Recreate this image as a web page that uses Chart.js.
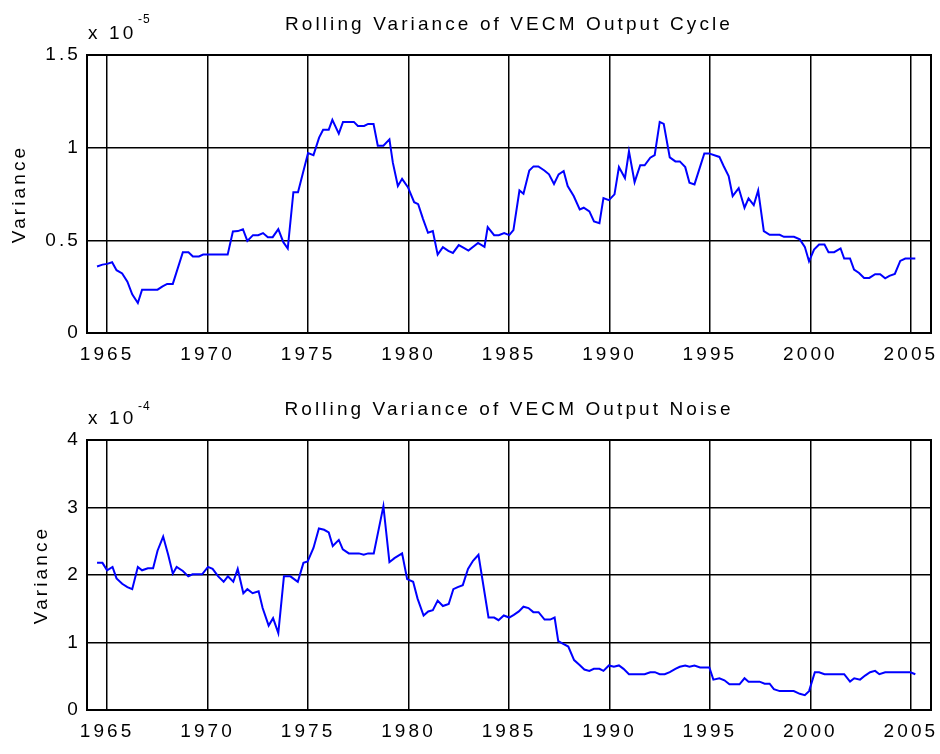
<!DOCTYPE html>
<html>
<head>
<meta charset="utf-8">
<script src="https://cdn.jsdelivr.net/npm/chart.js@4/dist/chart.umd.min.js"></script>
<style>
  body { margin: 0; background: #fff; }
  .panel { position: absolute; left: 0; width: 940px; height: 377px; }
</style>
</head>
<body>
<div class="panel" style="top:0"><canvas id="cycleChart" width="940" height="377"></canvas></div>
<div class="panel" style="top:377px"><canvas id="noiseChart" width="940" height="377"></canvas></div>
<script>
// tick labels
const yearTicks = [1965, 1970, 1975, 1980, 1985, 1990, 1995, 2000, 2005];
const cycleTicks = [0, 0.5, 1, 1.5];   // x 10^-5
const noiseTicks = [0, 1, 2, 3, 4];     // x 10^-4

// rolling variance of the output cycle (x 10^-5)
const cycleYears = [1964.50, 1964.77, 1965.00, 1965.25, 1965.47, 1965.75, 1966.01, 1966.25, 1966.53, 1966.74,
  1967.51, 1967.76, 1967.99, 1968.27, 1968.77, 1969.05, 1969.27, 1969.57, 1969.78, 1971.00,
  1971.26, 1971.51, 1971.76, 1971.98, 1972.26, 1972.52, 1972.76, 1973.00, 1973.24, 1973.52,
  1973.77, 1973.99, 1974.27, 1974.50, 1975.00, 1975.27, 1975.55, 1975.75, 1976.03, 1976.21,
  1976.53, 1976.74, 1977.28, 1977.48, 1977.79, 1977.99, 1978.26, 1978.47, 1978.75, 1979.05,
  1979.22, 1979.47, 1979.68, 1979.97, 1980.28, 1980.48, 1980.72, 1980.97, 1981.21, 1981.45,
  1981.71, 1981.98, 1982.21, 1982.50, 1982.75, 1982.98, 1983.46, 1983.78, 1983.94, 1984.26,
  1984.49, 1984.76, 1985.01, 1985.22, 1985.52, 1985.72, 1986.01, 1986.22, 1986.46, 1986.76,
  1986.99, 1987.24, 1987.47, 1987.72, 1987.92, 1988.22, 1988.52, 1988.72, 1989.00, 1989.23,
  1989.50, 1989.70, 1989.97, 1990.25, 1990.47, 1990.77, 1990.97, 1991.25, 1991.53, 1991.75,
  1992.03, 1992.25, 1992.50, 1992.70, 1993.00, 1993.28, 1993.50, 1993.77, 1993.98, 1994.23,
  1994.72, 1994.95, 1995.47, 1995.68, 1995.93, 1996.13, 1996.43, 1996.72, 1996.92, 1997.18,
  1997.40, 1997.68, 1997.97, 1998.47, 1998.68, 1999.18, 1999.47, 1999.72, 1999.93, 2000.18,
  2000.43, 2000.70, 2000.90, 2001.18, 2001.50, 2001.68, 2001.97, 2002.17, 2002.42, 2002.67,
  2002.93, 2003.22, 2003.47, 2003.72, 2003.93, 2004.20, 2004.47, 2004.72, 2005.22];
const cycleValues = [0.359, 0.369, 0.373, 0.382, 0.339, 0.321, 0.277, 0.209, 0.162, 0.234,
  0.234, 0.252, 0.265, 0.265, 0.436, 0.436, 0.413, 0.413, 0.423, 0.423,
  0.548, 0.550, 0.560, 0.497, 0.528, 0.528, 0.539, 0.517, 0.517, 0.560,
  0.490, 0.456, 0.760, 0.760, 0.971, 0.960, 1.054, 1.097, 1.097, 1.150,
  1.076, 1.139, 1.139, 1.117, 1.117, 1.128, 1.128, 1.011, 1.011, 1.045,
  0.919, 0.793, 0.832, 0.787, 0.706, 0.695, 0.616, 0.541, 0.550, 0.423,
  0.463, 0.443, 0.432, 0.474, 0.459, 0.445, 0.486, 0.465, 0.571, 0.528,
  0.528, 0.539, 0.528, 0.555, 0.769, 0.751, 0.877, 0.899, 0.899, 0.877,
  0.856, 0.804, 0.856, 0.874, 0.793, 0.739, 0.667, 0.676, 0.656, 0.602,
  0.593, 0.728, 0.717, 0.748, 0.895, 0.836, 0.980, 0.814, 0.905, 0.905,
  0.946, 0.960, 1.139, 1.128, 0.948, 0.926, 0.926, 0.895, 0.811, 0.802,
  0.969, 0.969, 0.950, 0.901, 0.847, 0.739, 0.782, 0.676, 0.726, 0.690,
  0.769, 0.550, 0.530, 0.530, 0.519, 0.519, 0.505, 0.465, 0.387, 0.450,
  0.477, 0.477, 0.436, 0.436, 0.456, 0.402, 0.402, 0.342, 0.324, 0.297,
  0.297, 0.317, 0.317, 0.295, 0.308, 0.319, 0.389, 0.402, 0.402];

// rolling variance of the output noise (x 10^-4)
const noiseYears = [1964.50, 1964.77, 1965.00, 1965.27, 1965.47, 1965.75, 1966.01, 1966.25, 1966.53, 1966.74,
  1967.03, 1967.29, 1967.51, 1967.79, 1968.04, 1968.27, 1968.46, 1968.77, 1969.04, 1969.25,
  1969.73, 1970.02, 1970.25, 1970.53, 1970.80, 1971.01, 1971.28, 1971.50, 1971.78, 1971.98,
  1972.24, 1972.54, 1972.74, 1973.04, 1973.26, 1973.52, 1973.80, 1974.12, 1974.49, 1974.77,
  1974.98, 1975.27, 1975.54, 1975.80, 1976.03, 1976.23, 1976.53, 1976.73, 1977.03, 1977.53,
  1977.77, 1977.99, 1978.27, 1978.75, 1979.05, 1979.30, 1979.68, 1979.93, 1980.23, 1980.45,
  1980.75, 1980.98, 1981.21, 1981.45, 1981.71, 1982.00, 1982.23, 1982.45, 1982.70, 1982.96,
  1983.21, 1983.48, 1983.98, 1984.26, 1984.48, 1984.74, 1985.01, 1985.24, 1985.49, 1985.72,
  1985.97, 1986.21, 1986.47, 1986.77, 1987.05, 1987.27, 1987.45, 1987.70, 1987.95, 1988.24,
  1988.50, 1988.75, 1989.00, 1989.22, 1989.50, 1989.70, 1989.97, 1990.22, 1990.47, 1990.70,
  1990.97, 1991.75, 1992.03, 1992.26, 1992.50, 1992.75, 1993.00, 1993.28, 1993.50, 1993.77,
  1993.98, 1994.23, 1994.51, 1994.97, 1995.17, 1995.47, 1995.72, 1995.97, 1996.47, 1996.72,
  1996.92, 1997.47, 1997.72, 1997.97, 1998.18, 1998.47, 1999.17, 1999.47, 1999.72, 1999.93,
  2000.22, 2000.43, 2000.70, 2001.68, 2001.97, 2002.18, 2002.47, 2002.72, 2002.97, 2003.22,
  2003.43, 2003.72, 2004.97, 2005.22];
const noiseValues = [2.18, 2.18, 2.07, 2.12, 1.95, 1.87, 1.82, 1.79, 2.12, 2.07,
  2.10, 2.10, 2.36, 2.57, 2.30, 2.02, 2.12, 2.06, 1.98, 2.01,
  2.01, 2.12, 2.09, 1.98, 1.90, 1.98, 1.90, 2.09, 1.73, 1.79,
  1.73, 1.76, 1.51, 1.25, 1.36, 1.14, 1.98, 1.98, 1.90, 2.18,
  2.20, 2.40, 2.69, 2.67, 2.63, 2.43, 2.52, 2.38, 2.32, 2.32,
  2.30, 2.32, 2.32, 3.02, 2.19, 2.25, 2.32, 1.94, 1.90, 1.65,
  1.40, 1.46, 1.48, 1.62, 1.54, 1.57, 1.79, 1.82, 1.85, 2.09,
  2.21, 2.30, 1.37, 1.37, 1.33, 1.40, 1.37, 1.41, 1.46, 1.53,
  1.51, 1.45, 1.45, 1.34, 1.34, 1.37, 1.02, 0.98, 0.94, 0.74,
  0.67, 0.60, 0.58, 0.61, 0.61, 0.58, 0.66, 0.64, 0.66, 0.61,
  0.53, 0.53, 0.56, 0.56, 0.53, 0.53, 0.56, 0.61, 0.64, 0.66,
  0.64, 0.66, 0.63, 0.63, 0.45, 0.47, 0.44, 0.38, 0.38, 0.47,
  0.42, 0.42, 0.39, 0.39, 0.31, 0.28, 0.28, 0.24, 0.22, 0.28,
  0.56, 0.56, 0.53, 0.53, 0.42, 0.47, 0.45, 0.51, 0.56, 0.58,
  0.53, 0.56, 0.56, 0.53];

const FONT = '"Liberation Sans", Arial, Helvetica, sans-serif';
const SPACING = '3.1px';
Chart.defaults.font.family = FONT;
Chart.defaults.font.size = 19;
Chart.defaults.color = '#000';

// matlab look: spaced text, closed box, "x 10^n" exponent label
const matlabBox = {
  id: 'matlabBox',
  beforeLayout(chart) { chart.ctx.letterSpacing = SPACING; },
  beforeDraw(chart) { chart.ctx.letterSpacing = SPACING; },
  afterDraw(chart, args, opts) {
    const ctx = chart.ctx;
    const a = chart.chartArea;
    ctx.save();
    ctx.strokeStyle = '#000';
    ctx.lineWidth = 2;
    ctx.strokeRect(a.left, a.top, a.right - a.left, a.bottom - a.top);
    ctx.fillStyle = '#000';
    ctx.textAlign = 'left';
    ctx.textBaseline = 'alphabetic';
    ctx.font = '19px ' + FONT;
    ctx.fillText('x 10', 88, a.top - 16.5);
    ctx.letterSpacing = '1px';
    ctx.font = '12px ' + FONT;
    ctx.fillText(opts.exponent, 138, a.top - opts.supDrop);
    ctx.restore();
  }
};

function makeChart(id, title, years, values, yTicks, yMax, exponent, supDrop, titlePad, yTitlePad) {
  return new Chart(document.getElementById(id), {
    type: 'line',
    data: {
      datasets: [{
        data: years.map((x, i) => ({ x: x, y: values[i] })),
        borderColor: '#0000ff',
        borderWidth: 2,
        pointRadius: 0,
        tension: 0
      }]
    },
    options: {
      responsive: false,
      animation: false,
      layout: { padding: { left: 0, right: 9, top: 0, bottom: 0 } },
      plugins: {
        legend: { display: false },
        tooltip: { enabled: false },
        title: {
          display: true,
          text: title,
          fullSize: false,
          color: '#000',
          font: { size: 19, weight: 'normal' },
          padding: titlePad
        },
        matlabBox: { exponent: exponent, supDrop: supDrop }
      },
      scales: {
        x: {
          type: 'linear',
          min: 1964,
          max: 2006,
          afterBuildTicks: s => { s.ticks = yearTicks.map(v => ({ value: v })); },
          afterFit: s => { s.height = 44; s.paddingLeft = 0; s.paddingRight = 0; },
          grid: { color: '#000', lineWidth: 1.5, drawTicks: false },
          border: { display: false },
          ticks: { padding: 10.7, maxRotation: 0, autoSkip: false, callback: v => String(v) }
        },
        y: {
          min: 0,
          max: yMax,
          afterBuildTicks: s => { s.ticks = yTicks.map(v => ({ value: v })); },
          afterFit: s => { s.width = 87; s.paddingTop = 0; s.paddingBottom = 0; },
          grid: { color: '#000', lineWidth: 1.5, drawTicks: false },
          border: { display: false },
          ticks: { padding: 6, callback: v => String(v) },
          title: { display: true, text: 'Variance', color: '#000', font: { size: 19 }, padding: { top: yTitlePad, bottom: 0 } }
        }
      }
    },
    plugins: [matlabBox]
  });
}

makeChart('cycleChart', 'Rolling Variance of VECM Output Cycle', cycleYears, cycleValues,
  cycleTicks, 1.5, '-5', 32, { top: 13.7, bottom: 18.5 }, 8.7);
makeChart('noiseChart', 'Rolling Variance of VECM Output Noise', noiseYears, noiseValues,
  noiseTicks, 4, '-4', 30, { top: 21, bottom: 19.2 }, 30.7);
</script>
</body>
</html>
